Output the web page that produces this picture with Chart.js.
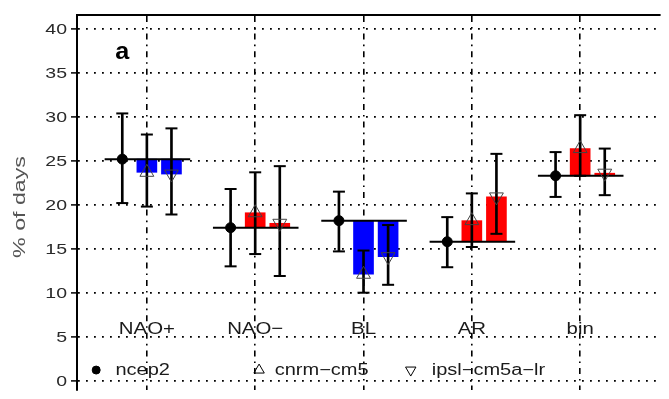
<!DOCTYPE html>
<html>
<head>
<meta charset="utf-8">
<script src="https://cdn.jsdelivr.net/npm/chart.js@4/dist/chart.umd.min.js"></script>
<style>
  html, body { margin: 0; padding: 0; background: #fff; }
</style>
</head>
<body>
<canvas id="regimeChart" width="669" height="399"></canvas>
<script>
'use strict';

/* ── data (% of days per weather regime) ── */
const categories = ['NAO+', 'NAO\u2212', 'BL', 'AR', 'bin'];

const ncep2   = [25.2, 17.4, 18.2, 15.8, 23.3];
const ncep2Lo = [20.2, 13.0, 14.7, 12.9, 20.9];
const ncep2Hi = [30.4, 21.8, 21.5, 18.6, 26.0];

const cnrm    = [23.7, 19.1, 12.1, 18.2, 26.4];
const cnrmLo  = [19.8, 14.4, 10.0, 15.2, 23.3];
const cnrmHi  = [28.0, 23.7, 14.8, 21.3, 30.2];

const ipsl    = [23.5, 17.9, 14.1, 20.9, 23.6];
const ipslLo  = [18.9, 11.9, 10.9, 16.7, 21.1];
const ipslHi  = [28.7, 24.4, 17.7, 25.8, 26.4];

const yTicks     = [0, 5, 10, 15, 20, 25, 30, 35, 40];
const separators = [1.5, 2.5, 3.5, 4.5];
const seriesNames = ['ncep2', 'cnrm\u2212cm5', 'ipsl\u2212cm5a\u2212lr'];

// horizontal offsets (x units) of each series inside a category
const OFF = { ncep2: -0.227, cnrm: 0, ipsl: 0.227 };

const pts = (vals, off) => vals.map((v, i) => ({ x: i + 1 + off, y: v }));
const barColor = (v, ref) => v < ref ? '#0000ff' : '#ff0000';

// error bar stems + caps
const stems = [], caps = [];
[[ncep2Lo, ncep2Hi, OFF.ncep2], [cnrmLo, cnrmHi, OFF.cnrm], [ipslLo, ipslHi, OFF.ipsl]].forEach(([lo, hi, off]) => {
    lo.forEach((l, i) => {
        stems.push({ x: i + 1 + off, y: [l, hi[i]] });
        caps.push({ x: i + 1 + off, y: l }, { x: i + 1 + off, y: hi[i] });
    });
});

// ncep2 reference line across each category
const refLine = [];
ncep2.forEach((v, i) => {
    refLine.push({ x: i + 1 - 0.39, y: v }, { x: i + 1 + 0.40, y: v }, { x: i + 1.45, y: null });
});

// legend markers (in data units)
const legendY = 1.2;
const legendItems = [
    { mx: 0.532, tx: 0.71, style: 'circle',   rot: 0 },
    { mx: 2.036, tx: 2.18, style: 'triangle', rot: 0 },
    { mx: 3.436, tx: 3.63, style: 'triangle', rot: 180 }
];

/* ── text drawn with a horizontal stretch, like the original device ── */
function wideText(ctx, txt, x, y, sx, align) {
    ctx.save();
    ctx.translate(x, y);
    ctx.scale(sx, 1);
    ctx.textAlign = align;
    ctx.fillText(txt, 0, 0);
    ctx.restore();
}

const textPlugin = {
    id: 'regimeText',
    afterDraw(chart) {
        const { ctx, scales: { x, y } } = chart;
        ctx.save();
        ctx.textBaseline = 'middle';

        // y tick labels
        ctx.fillStyle = '#2a2a2a';
        ctx.font = '15px "Liberation Sans", Arial, sans-serif';
        yTicks.forEach(v => wideText(ctx, String(v), 67, y.getPixelForValue(v) + 1, 1.3, 'right'));

        // y axis title
        ctx.save();
        ctx.translate(21, 207);
        ctx.rotate(-Math.PI / 2);
        ctx.fillStyle = '#555';
        ctx.font = '16px "Liberation Sans", Arial, sans-serif';
        wideText(ctx, '% of days', 0, 0, 1.45, 'center');
        ctx.restore();

        // regime labels inside the plot
        ctx.fillStyle = '#1a1a1a';
        ctx.font = '17px "Liberation Sans", Arial, sans-serif';
        categories.forEach((c, i) => wideText(ctx, c, x.getPixelForValue(i + 1), y.getPixelForValue(5.8), 1.2, 'center'));

        // legend text
        ctx.font = '16px "Liberation Sans", Arial, sans-serif';
        legendItems.forEach((it, i) => wideText(ctx, seriesNames[i], x.getPixelForValue(it.tx), y.getPixelForValue(legendY) + 1, 1.25, 'left'));

        // panel letter
        ctx.fillStyle = '#000';
        ctx.font = 'bold 24px "Liberation Sans", Arial, sans-serif';
        wideText(ctx, 'a', x.getPixelForValue(0.773), y.getPixelForValue(37.4), 1.05, 'center');

        ctx.restore();
    }
};

new Chart(document.getElementById('regimeChart'), {
    type: 'scatter',
    data: {
        datasets: [
            {   // ncep2 points
                data: pts(ncep2, OFF.ncep2), order: 0,
                pointStyle: 'circle', pointRadius: 5, pointBackgroundColor: '#000', pointBorderColor: '#000'
            },
            {   // cnrm-cm5 markers
                data: pts(cnrm, OFF.cnrm), order: 1,
                pointStyle: 'triangle', pointRadius: 8, pointBackgroundColor: 'rgba(0,0,0,0)',
                pointBorderColor: '#444', pointBorderWidth: 1
            },
            {   // ipsl-cm5a-lr markers
                data: pts(ipsl, OFF.ipsl), order: 1,
                pointStyle: 'triangle', pointRotation: 180, pointRadius: 8, pointBackgroundColor: 'rgba(0,0,0,0)',
                pointBorderColor: '#444', pointBorderWidth: 1
            },
            {   // legend markers
                data: legendItems.map(it => ({ x: it.mx, y: legendY })), order: 0,
                pointStyle: legendItems.map(it => it.style),
                pointRotation: legendItems.map(it => it.rot),
                pointRadius: [4, 6, 6],
                pointBackgroundColor: ['#000', 'rgba(0,0,0,0)', 'rgba(0,0,0,0)'],
                pointBorderColor: '#000', pointBorderWidth: 1
            },
            {   // error bar caps
                data: caps, order: 2,
                pointStyle: 'line', pointRadius: 6, pointBorderColor: '#000', pointBorderWidth: 2
            },
            {   // error bar stems
                type: 'bar', data: stems, order: 3, grouped: false,
                barThickness: 2, backgroundColor: '#000', borderWidth: 0
            },
            {   // ncep2 reference lines
                type: 'line', data: refLine, order: 4, spanGaps: false,
                borderColor: '#000', borderWidth: 2, pointRadius: 0, tension: 0
            },
            {   // cnrm-cm5 departure bars
                type: 'bar', order: 5, grouped: false, barThickness: 20, borderWidth: 0,
                data: cnrm.map((v, i) => ({ x: i + 1 + OFF.cnrm, y: [ncep2[i], v] })),
                backgroundColor: cnrm.map((v, i) => barColor(v, ncep2[i]))
            },
            {   // ipsl-cm5a-lr departure bars
                type: 'bar', order: 5, grouped: false, barThickness: 20, borderWidth: 0,
                data: ipsl.map((v, i) => ({ x: i + 1 + OFF.ipsl, y: [ncep2[i], v] })),
                backgroundColor: ipsl.map((v, i) => barColor(v, ncep2[i]))
            }
        ]
    },
    options: {
        responsive: false,
        animation: false,
        events: [],
        layout: { padding: 0 },
        plugins: { legend: { display: false }, tooltip: { enabled: false } },
        scales: {
            x: {
                type: 'linear', position: 'top', min: 0.355, max: 5.737, offset: false,
                afterBuildTicks: s => { s.ticks = separators.map(v => ({ value: v })); },
                afterFit: s => { s.height = 15; },
                ticks: { display: false },
                grid: { color: '#000', lineWidth: 1.6, drawTicks: false },
                border: { display: true, color: '#000', width: 2, dash: [6, 5, 1.6, 5] }
            },
            y: {
                type: 'linear', min: -1.07, max: 41.6,
                afterBuildTicks: s => { s.ticks = yTicks.map(v => ({ value: v })); },
                afterFit: s => { s.width = 77; },
                ticks: { display: false },
                grid: { color: '#000', lineWidth: 1.8, drawTicks: true, tickLength: 6, tickColor: '#000', tickWidth: 1.5 },
                border: { display: true, color: '#000', width: 2, dash: [1.8, 6.2] }
            }
        }
    },
    plugins: [textPlugin]
});
</script>
</body>
</html>
